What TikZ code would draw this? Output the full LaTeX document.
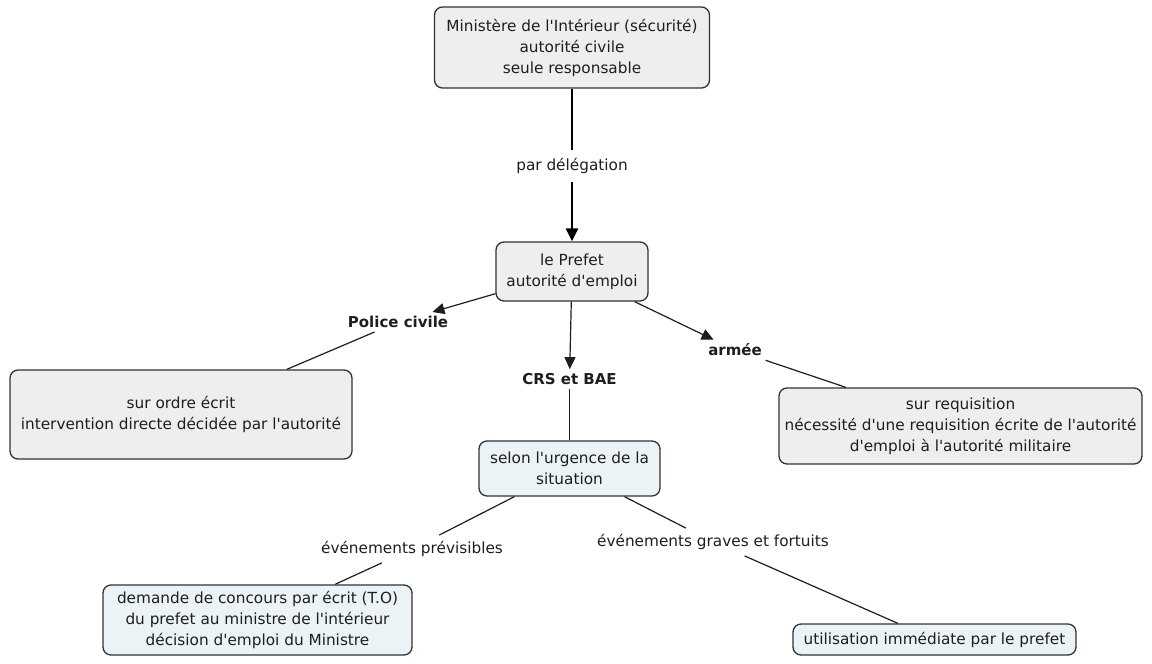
\documentclass[tikz,border=0pt]{standalone}
\usepackage{fontspec}
\setmainfont{DejaVu Sans}[Ligatures=TeXOff]
\usetikzlibrary{arrows.meta}
\definecolor{boxgray}{HTML}{EEEEEE}
\definecolor{boxblue}{HTML}{EBF3F7}
\definecolor{edge}{HTML}{333333}
\definecolor{ink}{HTML}{1E1E1E}
\begin{document}
\begin{tikzpicture}[x=1pt,y=-1pt,
  every node/.style={text=ink,font=\fontsize{15.3}{21}\selectfont},
  concept/.style={draw=edge,line width=1.3pt,rounded corners=8pt,align=center,inner sep=0pt},
  graybox/.style={concept,fill=boxgray},
  bluebox/.style={concept,fill=boxblue},
  linkword/.style={inner sep=4pt},
  boldword/.style={linkword,font=\fontsize{15}{21}\selectfont\bfseries},
  link/.style={draw=ink,line width=1.2pt},
  arrowlink/.style={link,-{Triangle[length=12pt,width=11pt]}},
  biglink/.style={draw=black,line width=2.8pt,-{Triangle[length=13pt,width=12pt]}}]
\useasboundingbox (0,0) rectangle (1152,664);
\fill[white] (0,0) rectangle (1152,664);

% concepts
\node[graybox,minimum width=275pt,minimum height=81pt] (min) at (572,47.5)
  {Ministère de l'Intérieur (sécurité)\\autorité civile\\seule responsable};
\node[graybox,minimum width=152pt,minimum height=59pt] (prefet) at (572,271.5)
  {le Prefet\\autorité d'emploi};
\node[graybox,minimum width=342pt,minimum height=89pt] (ordre) at (181,414.5)
  {sur ordre écrit\\intervention directe décidée par l'autorité};
\node[graybox,minimum width=363pt,minimum height=76pt] (requis) at (960.5,426)
  {sur requisition\\nécessité d'une requisition écrite de l'autorité\\d'emploi à l'autorité militaire};
\node[bluebox,minimum width=181pt,minimum height=55pt] (urgence) at (569.5,468.5)
  {selon l'urgence de la\\situation};
\node[bluebox,minimum width=309pt,minimum height=70pt] (demande) at (257.5,620)
  {demande de concours par écrit (T.O)\\du prefet au ministre de l'intérieur\\décision d'emploi du Ministre};
\node[bluebox,minimum width=283pt,minimum height=31pt] (immediat) at (934.5,639.5)
  {utilisation immédiate par le prefet};

% linking phrases
\node[linkword,inner sep=8pt] (deleg) at (572,166) {par délégation};
\node[boldword] (police) at (398,322) {Police civile};
\node[boldword] (crs) at (569.5,379) {CRS et BAE};
\node[boldword] (armee) at (735,350) {armée};
\node[linkword,inner sep=6pt] (prev) at (412,549) {événements prévisibles};
\node[linkword,inner sep=6pt] (graves) at (713,542) {événements graves et fortuits};

% connectors
\draw[draw=black,line width=2.8pt] (min) -- (deleg);
\draw[biglink] (deleg) -- (prefet);
\draw[arrowlink] (prefet) -- (police);
\draw[arrowlink] (prefet) -- (crs);
\draw[arrowlink] (prefet) -- (armee);
\draw[link] (police) -- (ordre);
\draw[link] (crs) -- (urgence);
\draw[link] (armee) -- (requis);
\draw[link] (urgence) -- (prev);
\draw[link] (prev) -- (demande);
\draw[link] (urgence) -- (graves);
\draw[link] (graves) -- (immediat);
\end{tikzpicture}
\end{document}
